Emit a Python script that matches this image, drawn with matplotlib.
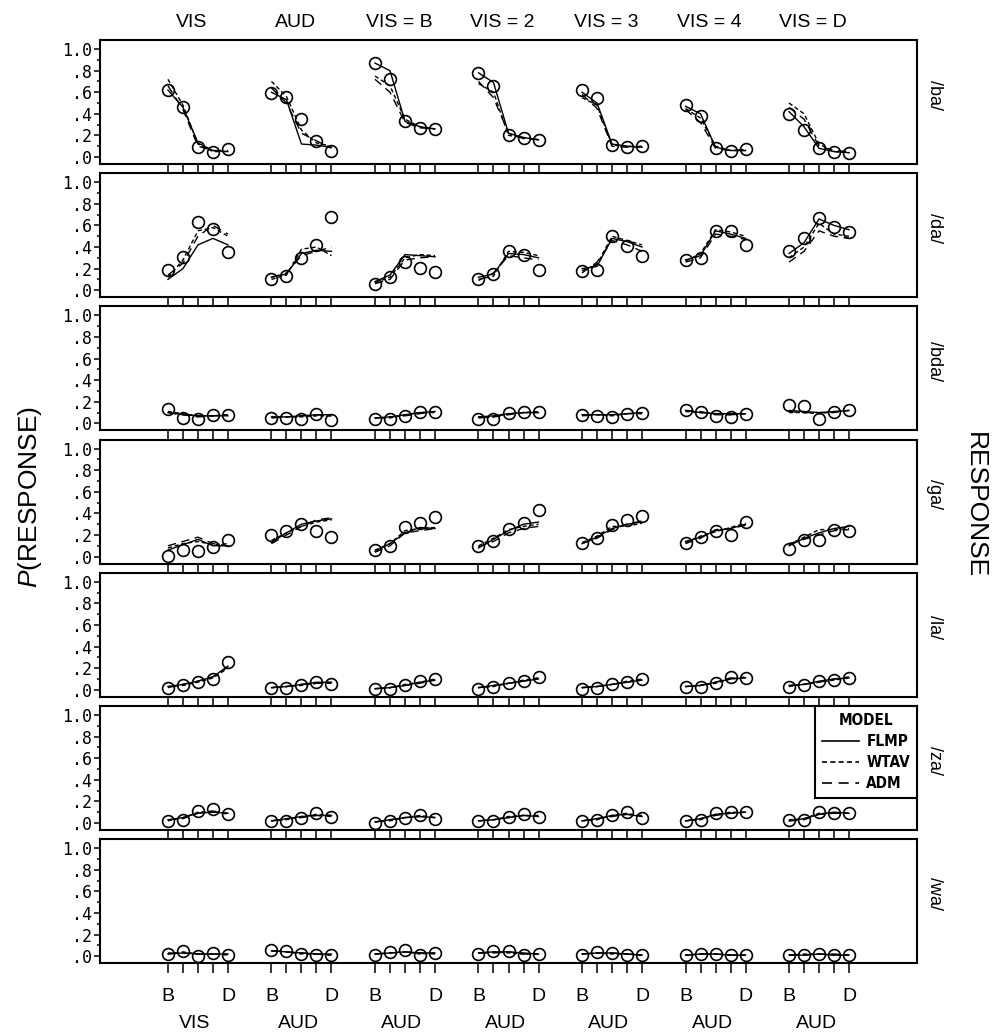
import matplotlib
matplotlib.use("Agg")
import matplotlib.pyplot as plt
from matplotlib.lines import Line2D
from matplotlib.ticker import MultipleLocator
import numpy as np

plt.rcParams["font.family"] = ["Liberation Sans", "DejaVu Sans"]
plt.rcParams["mathtext.fontset"] = "custom"
plt.rcParams["mathtext.it"] = "Liberation Sans:italic"
plt.rcParams["mathtext.rm"] = "Liberation Sans"

# conditions (columns) and responses (rows)
groups = ["VIS", "AUD", "VIS = B", "VIS = 2", "VIS = 3", "VIS = 4", "VIS = D"]
bottom_groups = ["VIS", "AUD", "AUD", "AUD", "AUD", "AUD", "AUD"]
responses = ["/ba/", "/da/", "/bda/", "/ga/", "/la/", "/za/", "/wa/"]
ytick_labels = [".0", ".2", ".4", ".6", ".8", "1.0"]

# observed proportions, one list of 5 levels (B..D) per condition
obs_ba = [[0.62, 0.46, 0.09, 0.05, 0.07], [0.59, 0.56, 0.35, 0.15, 0.06],
          [0.87, 0.72, 0.33, 0.27, 0.26], [0.78, 0.66, 0.20, 0.18, 0.16],
          [0.62, 0.55, 0.11, 0.09, 0.10], [0.48, 0.38, 0.08, 0.06, 0.07],
          [0.40, 0.25, 0.08, 0.05, 0.04]]
obs_da = [[0.19, 0.31, 0.63, 0.57, 0.35], [0.10, 0.13, 0.30, 0.42, 0.68],
          [0.06, 0.12, 0.26, 0.21, 0.17], [0.10, 0.15, 0.36, 0.33, 0.19],
          [0.18, 0.19, 0.50, 0.41, 0.32], [0.28, 0.30, 0.55, 0.55, 0.42],
          [0.36, 0.48, 0.67, 0.59, 0.54]]
obs_bda = [[0.13, 0.05, 0.04, 0.08, 0.08], [0.05, 0.05, 0.04, 0.09, 0.03],
           [0.04, 0.04, 0.07, 0.11, 0.11], [0.04, 0.04, 0.10, 0.11, 0.11],
           [0.08, 0.07, 0.06, 0.09, 0.10], [0.12, 0.11, 0.07, 0.06, 0.09],
           [0.17, 0.16, 0.04, 0.11, 0.12]]
obs_ga = [[0.01, 0.06, 0.05, 0.09, 0.15], [0.20, 0.24, 0.30, 0.24, 0.18],
          [0.06, 0.10, 0.27, 0.31, 0.37], [0.10, 0.14, 0.26, 0.31, 0.43],
          [0.13, 0.17, 0.29, 0.34, 0.38], [0.13, 0.18, 0.24, 0.20, 0.32],
          [0.07, 0.15, 0.15, 0.25, 0.24]]
obs_la = [[0.02, 0.04, 0.07, 0.10, 0.26], [0.02, 0.02, 0.04, 0.07, 0.05],
          [0.01, 0.01, 0.04, 0.08, 0.10], [0.01, 0.03, 0.06, 0.08, 0.12],
          [0.01, 0.02, 0.05, 0.07, 0.10], [0.03, 0.03, 0.06, 0.12, 0.11],
          [0.03, 0.04, 0.08, 0.09, 0.11]]
obs_za = [[0.02, 0.03, 0.11, 0.13, 0.08], [0.02, 0.02, 0.05, 0.09, 0.06],
          [0.00, 0.02, 0.05, 0.07, 0.04], [0.02, 0.02, 0.06, 0.08, 0.06],
          [0.02, 0.03, 0.07, 0.10, 0.05], [0.02, 0.03, 0.09, 0.10, 0.10],
          [0.03, 0.03, 0.10, 0.09, 0.09]]
obs_wa = [[0.02, 0.05, 0.00, 0.03, 0.01], [0.06, 0.05, 0.02, 0.01, 0.01],
          [0.01, 0.04, 0.06, 0.01, 0.03], [0.02, 0.05, 0.05, 0.01, 0.02],
          [0.01, 0.04, 0.03, 0.01, 0.01], [0.01, 0.02, 0.02, 0.01, 0.01],
          [0.01, 0.01, 0.02, 0.01, 0.01]]

# model predictions
flmp_ba = [[0.62, 0.46, 0.13, 0.06, 0.05], [0.60, 0.53, 0.12, 0.11, 0.09],
           [0.87, 0.80, 0.33, 0.28, 0.26], [0.78, 0.69, 0.22, 0.18, 0.16],
           [0.60, 0.50, 0.12, 0.10, 0.09], [0.47, 0.40, 0.09, 0.06, 0.06],
           [0.42, 0.28, 0.08, 0.05, 0.04]]
wtav_ba = [[0.72, 0.48, 0.12, 0.05, 0.05], [0.70, 0.56, 0.25, 0.13, 0.10],
           [0.75, 0.66, 0.35, 0.28, 0.26], [0.68, 0.60, 0.20, 0.18, 0.16],
           [0.55, 0.48, 0.11, 0.10, 0.09], [0.45, 0.36, 0.10, 0.06, 0.06],
           [0.50, 0.40, 0.12, 0.05, 0.04]]
adm_ba = [[0.66, 0.44, 0.10, 0.06, 0.06], [0.64, 0.50, 0.22, 0.15, 0.08],
          [0.72, 0.60, 0.32, 0.27, 0.26], [0.70, 0.55, 0.22, 0.17, 0.16],
          [0.58, 0.45, 0.10, 0.09, 0.10], [0.44, 0.32, 0.08, 0.06, 0.07],
          [0.46, 0.35, 0.10, 0.06, 0.05]]

flmp_da = [[0.10, 0.20, 0.42, 0.48, 0.42], [0.12, 0.15, 0.34, 0.37, 0.36],
           [0.08, 0.14, 0.33, 0.32, 0.31], [0.12, 0.15, 0.34, 0.33, 0.30],
           [0.20, 0.22, 0.48, 0.45, 0.40], [0.28, 0.32, 0.55, 0.52, 0.48],
           [0.34, 0.44, 0.66, 0.60, 0.56]]
wtav_da = [[0.12, 0.28, 0.55, 0.58, 0.50], [0.10, 0.14, 0.38, 0.40, 0.32],
           [0.07, 0.12, 0.30, 0.33, 0.32], [0.10, 0.13, 0.36, 0.35, 0.32],
           [0.18, 0.24, 0.50, 0.46, 0.42], [0.27, 0.34, 0.56, 0.54, 0.50],
           [0.30, 0.40, 0.62, 0.52, 0.50]]
adm_da = [[0.14, 0.25, 0.50, 0.60, 0.52], [0.12, 0.16, 0.32, 0.36, 0.40],
          [0.06, 0.10, 0.28, 0.30, 0.31], [0.09, 0.16, 0.32, 0.30, 0.28],
          [0.16, 0.26, 0.46, 0.42, 0.36], [0.26, 0.30, 0.52, 0.50, 0.47],
          [0.26, 0.36, 0.55, 0.50, 0.48]]

flmp_bda = [[0.10, 0.08, 0.07, 0.07, 0.07], [0.06, 0.06, 0.07, 0.08, 0.08],
            [0.05, 0.06, 0.08, 0.10, 0.11], [0.06, 0.07, 0.09, 0.10, 0.10],
            [0.08, 0.08, 0.08, 0.09, 0.10], [0.12, 0.10, 0.09, 0.09, 0.09],
            [0.12, 0.11, 0.10, 0.11, 0.12]]
wtav_bda = [[0.11, 0.09, 0.07, 0.07, 0.08], [0.06, 0.06, 0.06, 0.07, 0.07],
            [0.05, 0.05, 0.08, 0.10, 0.10], [0.05, 0.06, 0.09, 0.10, 0.11],
            [0.08, 0.08, 0.07, 0.09, 0.10], [0.11, 0.10, 0.09, 0.08, 0.09],
            [0.10, 0.10, 0.09, 0.11, 0.12]]
adm_bda = [[0.10, 0.08, 0.06, 0.07, 0.08], [0.05, 0.06, 0.07, 0.08, 0.07],
           [0.05, 0.06, 0.07, 0.09, 0.11], [0.06, 0.06, 0.08, 0.10, 0.10],
           [0.07, 0.08, 0.08, 0.09, 0.09], [0.12, 0.11, 0.08, 0.08, 0.09],
           [0.11, 0.10, 0.10, 0.10, 0.12]]

flmp_ga = [[0.06, 0.11, 0.16, 0.10, 0.10], [0.13, 0.22, 0.30, 0.33, 0.35],
           [0.05, 0.12, 0.22, 0.27, 0.26], [0.08, 0.16, 0.24, 0.30, 0.32],
           [0.12, 0.18, 0.26, 0.30, 0.32], [0.14, 0.18, 0.24, 0.26, 0.30],
           [0.10, 0.17, 0.22, 0.26, 0.28]]
wtav_ga = [[0.08, 0.12, 0.14, 0.11, 0.12], [0.15, 0.22, 0.28, 0.32, 0.34],
           [0.06, 0.12, 0.24, 0.26, 0.27], [0.10, 0.17, 0.25, 0.28, 0.30],
           [0.13, 0.19, 0.28, 0.28, 0.31], [0.13, 0.19, 0.23, 0.27, 0.31],
           [0.11, 0.18, 0.25, 0.25, 0.26]]
adm_ga = [[0.10, 0.14, 0.18, 0.12, 0.10], [0.12, 0.20, 0.28, 0.34, 0.36],
          [0.04, 0.10, 0.22, 0.24, 0.26], [0.09, 0.14, 0.22, 0.26, 0.28],
          [0.12, 0.17, 0.25, 0.30, 0.33], [0.12, 0.17, 0.25, 0.26, 0.29],
          [0.12, 0.16, 0.20, 0.24, 0.25]]

flmp_la = [[0.03, 0.05, 0.08, 0.12, 0.22], [0.02, 0.03, 0.05, 0.07, 0.07],
           [0.01, 0.02, 0.04, 0.07, 0.09], [0.02, 0.04, 0.06, 0.08, 0.10],
           [0.02, 0.03, 0.05, 0.07, 0.09], [0.03, 0.04, 0.07, 0.10, 0.11],
           [0.04, 0.05, 0.08, 0.10, 0.11]]
wtav_la = [[0.03, 0.04, 0.07, 0.11, 0.20], [0.02, 0.03, 0.04, 0.06, 0.07],
           [0.01, 0.02, 0.05, 0.07, 0.10], [0.02, 0.03, 0.06, 0.09, 0.11],
           [0.02, 0.03, 0.05, 0.08, 0.10], [0.03, 0.04, 0.06, 0.10, 0.12],
           [0.03, 0.05, 0.07, 0.09, 0.11]]
adm_la = [[0.02, 0.05, 0.08, 0.12, 0.21], [0.02, 0.03, 0.05, 0.06, 0.06],
          [0.01, 0.02, 0.04, 0.06, 0.09], [0.02, 0.04, 0.06, 0.08, 0.11],
          [0.02, 0.03, 0.05, 0.07, 0.09], [0.03, 0.04, 0.07, 0.11, 0.11],
          [0.04, 0.05, 0.07, 0.10, 0.12]]

flmp_za = [[0.03, 0.05, 0.09, 0.10, 0.09], [0.02, 0.04, 0.06, 0.07, 0.07],
           [0.01, 0.03, 0.05, 0.06, 0.05], [0.02, 0.03, 0.05, 0.07, 0.06],
           [0.02, 0.04, 0.07, 0.08, 0.06], [0.02, 0.04, 0.08, 0.09, 0.10],
           [0.02, 0.04, 0.08, 0.10, 0.09]]
wtav_za = [[0.02, 0.05, 0.10, 0.11, 0.08], [0.02, 0.03, 0.06, 0.08, 0.07],
           [0.01, 0.02, 0.05, 0.07, 0.05], [0.02, 0.03, 0.06, 0.07, 0.06],
           [0.02, 0.03, 0.07, 0.09, 0.06], [0.02, 0.03, 0.08, 0.10, 0.10],
           [0.03, 0.04, 0.09, 0.09, 0.09]]
adm_za = [[0.03, 0.04, 0.09, 0.11, 0.09], [0.02, 0.04, 0.05, 0.07, 0.06],
          [0.01, 0.03, 0.05, 0.06, 0.05], [0.02, 0.03, 0.05, 0.07, 0.07],
          [0.02, 0.04, 0.06, 0.08, 0.07], [0.02, 0.04, 0.07, 0.09, 0.10],
          [0.02, 0.03, 0.08, 0.09, 0.09]]

flmp_wa = [[0.02, 0.03, 0.02, 0.02, 0.02], [0.05, 0.04, 0.03, 0.02, 0.02],
           [0.02, 0.03, 0.04, 0.03, 0.03], [0.03, 0.04, 0.04, 0.03, 0.02],
           [0.02, 0.03, 0.03, 0.02, 0.01], [0.01, 0.02, 0.02, 0.01, 0.01],
           [0.01, 0.01, 0.02, 0.01, 0.01]]
wtav_wa = [[0.02, 0.04, 0.02, 0.02, 0.01], [0.05, 0.04, 0.02, 0.02, 0.01],
           [0.02, 0.03, 0.04, 0.02, 0.03], [0.03, 0.04, 0.03, 0.02, 0.02],
           [0.02, 0.03, 0.02, 0.02, 0.01], [0.01, 0.02, 0.02, 0.01, 0.01],
           [0.01, 0.02, 0.02, 0.01, 0.01]]
adm_wa = [[0.03, 0.03, 0.02, 0.02, 0.02], [0.05, 0.04, 0.03, 0.02, 0.01],
          [0.02, 0.03, 0.04, 0.03, 0.02], [0.03, 0.03, 0.04, 0.02, 0.02],
          [0.02, 0.03, 0.03, 0.02, 0.01], [0.01, 0.02, 0.02, 0.01, 0.01],
          [0.01, 0.01, 0.02, 0.02, 0.01]]

observed = [obs_ba, obs_da, obs_bda, obs_ga, obs_la, obs_za, obs_wa]
flmp = [flmp_ba, flmp_da, flmp_bda, flmp_ga, flmp_la, flmp_za, flmp_wa]
wtav = [wtav_ba, wtav_da, wtav_bda, wtav_ga, wtav_la, wtav_za, wtav_wa]
adm = [adm_ba, adm_da, adm_bda, adm_ga, adm_la, adm_za, adm_wa]

GROUP_STEP = 6.9
WTAV_DASH = (3, 2)
ADM_DASH = (6, 4)

W, H = 997, 1034
fig = plt.figure(figsize=(W / 100, H / 100), dpi=100)

left_px, right_px = 100, 917
top0_px, step_px, height_px = 40, 133.2, 124

axes = []
for r, resp in enumerate(responses):
    top = top0_px + r * step_px
    ax = fig.add_axes([left_px / W, 1 - (top + height_px) / H,
                       (right_px - left_px) / W, height_px / H])
    axes.append(ax)

    xticks = []
    for g in range(len(groups)):
        xs = g * GROUP_STEP + np.arange(5)
        xticks.extend(xs)
        ax.plot(xs, flmp[r][g], color="black", lw=1.0)
        ax.plot(xs, wtav[r][g], color="black", lw=1.0, dashes=WTAV_DASH)
        ax.plot(xs, adm[r][g], color="black", lw=1.0, dashes=ADM_DASH)
        ax.plot(xs, observed[r][g], linestyle="none", marker="o", ms=8.5,
                mfc="none", mec="black", mew=1.2)

    ax.set_xlim(-4.53, 49.93)
    ax.set_ylim(-0.065, 1.084)
    ax.set_xticks(xticks)
    ax.set_xticklabels([])
    ax.tick_params(axis="x", direction="out", length=7.5, width=1.1)
    ax.set_yticks(np.arange(0, 1.01, 0.2))
    ax.set_yticklabels(ytick_labels, family="DejaVu Sans Mono", fontsize=12)
    ax.yaxis.set_minor_locator(MultipleLocator(0.1))
    ax.tick_params(axis="y", which="major", direction="out", length=4, width=1.1, pad=2)
    ax.tick_params(axis="y", which="minor", direction="out", length=2.5, width=1.1)
    for s in ax.spines.values():
        s.set_linewidth(1.5)

    ax.text(1.022, 0.56, resp, transform=ax.transAxes, rotation=-90,
            ha="center", va="center", fontsize=13)

# condition labels along the top
for g, name in enumerate(groups):
    axes[0].text(g * GROUP_STEP + 1.6, 1.145, name, ha="center", va="center",
                 fontsize=14, transform=axes[0].get_xaxis_transform())

# level and modality labels along the bottom
bax = axes[-1]
for g, name in enumerate(bottom_groups):
    bax.text(g * GROUP_STEP, -0.27, "B", ha="center", va="center", fontsize=14,
             transform=bax.get_xaxis_transform())
    bax.text(g * GROUP_STEP + 4, -0.27, "D", ha="center", va="center", fontsize=14,
             transform=bax.get_xaxis_transform())
    bax.text(g * GROUP_STEP + 1.8, -0.49, name, ha="center", va="center", fontsize=14,
             transform=bax.get_xaxis_transform())

fig.text(30 / W, 1 - 497 / H, r"$\mathit{P}$(RESPONSE)", rotation=90,
         ha="center", va="center", fontsize=19)
fig.text(975 / W, 1 - 505 / H, "RESPONSE", rotation=-90,
         ha="center", va="center", fontsize=19)

# model legend in the /za/ panel
handles = [Line2D([], [], color="black", lw=1.2),
           Line2D([], [], color="black", lw=1.2, dashes=WTAV_DASH),
           Line2D([], [], color="black", lw=1.2, dashes=ADM_DASH)]
leg_font = {"family": ["DejaVu Sans"], "stretch": "condensed", "weight": "bold", "size": 11}
leg = axes[5].legend(handles, ["FLMP", "WTAV", "ADM"], title="MODEL", loc="upper right",
                     borderaxespad=0, fancybox=False, edgecolor="black", framealpha=1,
                     prop=leg_font, title_fontproperties=leg_font, handlelength=2.4,
                     labelspacing=0.4, borderpad=0.45, handletextpad=0.5)
leg.get_frame().set_linewidth(1.5)

fig.savefig("out.png", dpi=100)
